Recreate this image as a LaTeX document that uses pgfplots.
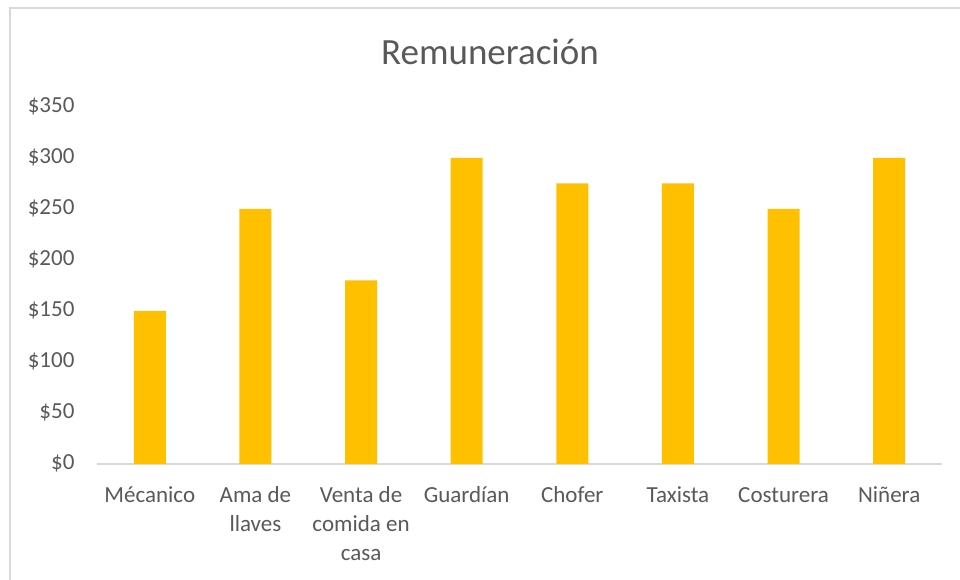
\documentclass[border=0pt]{standalone}
\usepackage{pgfplots}
\pgfplotsset{compat=1.18}
\usepackage{fontspec}
\setmainfont{Carlito}
\definecolor{barc}{HTML}{FFC000}
\definecolor{txt}{HTML}{595959}
\definecolor{framec}{HTML}{D9D9D9}
\begin{document}
\begin{tikzpicture}
\useasboundingbox (0pt,0pt) rectangle (960pt,580pt);
\draw[framec, line width=1.5pt] (10pt,-5pt) -- (10pt,572pt) -- (965pt,572pt);
\node[txt, anchor=base, inner sep=0pt, font=\fontsize{37}{44}\selectfont] at (490pt,515pt) {Remuneración};
\begin{axis}[
  at={(97pt,116pt)}, anchor=south west,
  scale only axis, width=845pt, height=357pt,
  xmin=-0.5, xmax=7.5, ymin=0, ymax=350,
  axis x line=bottom, axis y line=left,
  y axis line style={draw=none},
  x axis line style={draw=framec, line width=1.3pt, -},
  xtick={0,...,7},
  xticklabels={Mécanico,{Ama de\\llaves},{Venta de\\comida en\\casa},Guardían,Chofer,Taxista,Costurera,Niñera},
  ytick={0,50,...,350},
  yticklabels={\$0,\$50,\$100,\$150,\$200,\$250,\$300,\$350},
  major tick length=0pt,
  tick style={draw=none},
  typeset ticklabels with strut,
  yticklabel style={font=\fontsize{23}{29}\selectfont, text=txt, anchor=east, xshift=-19pt},
  xticklabel style={font=\fontsize{23}{29}\selectfont, text=txt, align=center, anchor=north, yshift=-15pt},
  ybar, bar width=32pt,
]
\addplot[fill=barc, draw=none, bar shift=0pt] coordinates {
 (0,150) (1,250) (2,180) (3,300) (4,275) (5,275) (6,250) (7,300)
};
\end{axis}
\end{tikzpicture}
\end{document}
